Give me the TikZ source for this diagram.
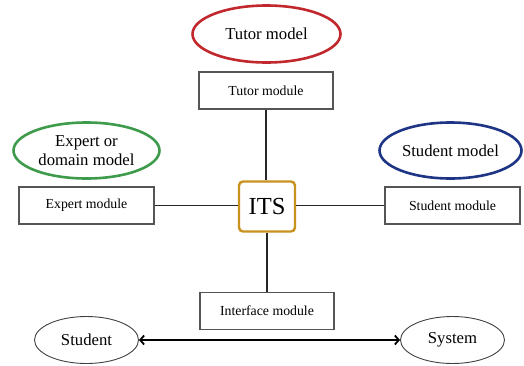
\documentclass[tikz,border=0pt]{standalone}
\usepackage{fontspec}
\setmainfont{Liberation Serif}
\usetikzlibrary{shapes.geometric,arrows.meta}
\definecolor{redm}{HTML}{C0282D}
\definecolor{greenm}{HTML}{3E9B4C}
\definecolor{bluem}{HTML}{1E3585}
\definecolor{goldm}{HTML}{C8921E}
\definecolor{boxgray}{HTML}{555555}
\tikzset{
  model/.style={ellipse, draw, line width=2.6pt, minimum width=#1, inner sep=0pt,
    font=\fontsize{16.7}{19}\selectfont, align=center},
  modbox/.style={draw=boxgray, line width=1.2pt, minimum width=134pt, minimum height=37pt,
    inner sep=0pt, font=\fontsize{13.8}{16}\selectfont},
  endell/.style={ellipse, draw=black!75, line width=0.9pt, minimum width=104pt, minimum height=47pt,
    inner sep=0pt, font=\fontsize{16.7}{19}\selectfont},
  link/.style={draw=black!85, line width=1.2pt}
}
\begin{document}
\begin{tikzpicture}[x=1pt,y=-1pt]
\useasboundingbox (0,0) rectangle (524,365);
\node[model=148pt, draw=redm, minimum height=57pt] (tutm) at (266.5,34) {Tutor model};
\node[model=146pt, draw=greenm, minimum height=56pt] (expm) at (86.5,150.5) {Expert or\\domain model};
\node[model=142pt, draw=bluem, minimum height=56pt] (stum) at (450.5,150.5) {Student model};
\node[modbox] (tutb) at (266,90.5) {Tutor module};
\node[modbox, minimum width=135pt] (expb) at (86.5,205.5) {Expert module};
\node[modbox, minimum width=135pt] (stub) at (452.5,205.5) {Student module};
\node[modbox] (intb) at (267,311) {Interface module};
\node[draw=goldm, line width=2.4pt, rounded corners=4pt, minimum width=56pt, minimum height=50pt,
  inner sep=0pt, font=\fontsize{24.5}{28}\selectfont] (its) at (267,206.5) {ITS};
\node[endell] (stu) at (86.5,340) {Student};
\node[endell] (sys) at (452.5,340) {System};
\draw[link] (tutb.south) -- (tutb.south |- its.north);
\draw[link] (intb.north) -- (intb.north |- its.south);
\draw[link] (expb.east) -- (its.west |- expb.east);
\draw[link] (stub.west) -- (its.east |- stub.west);
\draw[line width=1.8pt, {Straight Barb[length=4pt,width=9pt]}-{Straight Barb[length=4pt,width=9pt]}]
  (stu.east) -- (sys.west);
\end{tikzpicture}
\end{document}
